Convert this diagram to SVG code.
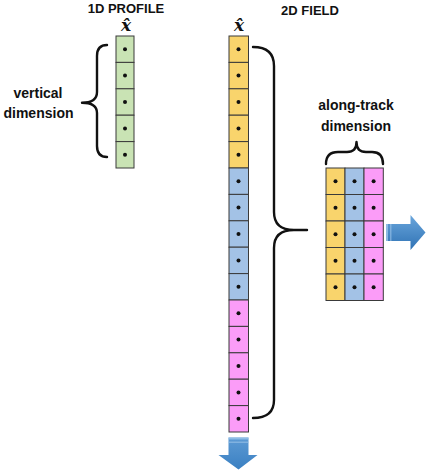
<svg xmlns="http://www.w3.org/2000/svg" width="427" height="472" viewBox="0 0 427 472">
<defs>
<style>
.t{font-family:"Liberation Sans",Arial,sans-serif;font-weight:bold;fill:#111;text-anchor:middle}
.title{font-size:13px}
.lbl{font-size:14px}
.xh{font-family:"DejaVu Serif","Liberation Serif",serif;font-style:italic;font-weight:bold;font-size:17px;fill:#111;text-anchor:middle}
.c{stroke:#3a3a3a;stroke-width:1}
.g{fill:#c9e3b4}
.y{fill:#f9d46c}
.b{fill:#a3c2e6}
.p{fill:#fb9cf8}
.d{fill:#111}
.br{fill:none;stroke:#111;stroke-width:2.4;stroke-linecap:round;stroke-linejoin:round}
</style>
<linearGradient id="gR" x1="0" y1="0" x2="0" y2="1">
<stop offset="0" stop-color="#6aa6dc"/>
<stop offset="1" stop-color="#2f72b4"/>
</linearGradient>
<linearGradient id="gDv" x1="0" y1="0" x2="0" y2="1">
<stop offset="0" stop-color="#5d9ad4"/>
<stop offset="1" stop-color="#3a80c2"/>
</linearGradient>
</defs>

<g id="titles">
<text class="t title" x="126" y="13">1D PROFILE</text>
<text class="t title" x="310" y="15">2D FIELD</text>
<text class="xh" x="126" y="31">x&#770;</text>
<text class="xh" x="239" y="31">x&#770;</text>
</g>

<g id="profile1d">
<rect class="c g" x="116" y="36" width="18" height="26.4"/>
<rect class="c g" x="116" y="62.4" width="18" height="26.4"/>
<rect class="c g" x="116" y="88.8" width="18" height="26.4"/>
<rect class="c g" x="116" y="115.2" width="18" height="26.4"/>
<rect class="c g" x="116" y="141.6" width="18" height="26.4"/>
<circle class="d" cx="125" cy="49.2" r="2"/>
<circle class="d" cx="125" cy="75.6" r="2"/>
<circle class="d" cx="125" cy="102" r="2"/>
<circle class="d" cx="125" cy="128.4" r="2"/>
<circle class="d" cx="125" cy="154.8" r="2"/>
</g>

<g id="vertical-label">
<text class="t lbl" x="38" y="97.5">vertical</text>
<text class="t lbl" x="38.5" y="117.5">dimension</text>
</g>

<g id="field2d">
<rect class="c y" x="229" y="36" width="19.5" height="26.4"/>
<rect class="c y" x="229" y="62.4" width="19.5" height="26.4"/>
<rect class="c y" x="229" y="88.8" width="19.5" height="26.4"/>
<rect class="c y" x="229" y="115.2" width="19.5" height="26.4"/>
<rect class="c y" x="229" y="141.6" width="19.5" height="26.4"/>
<rect class="c b" x="229" y="168" width="19.5" height="26.4"/>
<rect class="c b" x="229" y="194.4" width="19.5" height="26.4"/>
<rect class="c b" x="229" y="220.8" width="19.5" height="26.4"/>
<rect class="c b" x="229" y="247.2" width="19.5" height="26.4"/>
<rect class="c b" x="229" y="273.6" width="19.5" height="26.4"/>
<rect class="c p" x="229" y="300" width="19.5" height="26.4"/>
<rect class="c p" x="229" y="326.4" width="19.5" height="26.4"/>
<rect class="c p" x="229" y="352.8" width="19.5" height="26.4"/>
<rect class="c p" x="229" y="379.2" width="19.5" height="26.4"/>
<rect class="c p" x="229" y="405.6" width="19.5" height="26.4"/>
<circle class="d" cx="238.5" cy="49.2" r="2"/>
<circle class="d" cx="238.5" cy="75.6" r="2"/>
<circle class="d" cx="238.5" cy="102" r="2"/>
<circle class="d" cx="238.5" cy="128.4" r="2"/>
<circle class="d" cx="238.5" cy="154.8" r="2"/>
<circle class="d" cx="238.5" cy="181.2" r="2"/>
<circle class="d" cx="238.5" cy="207.6" r="2"/>
<circle class="d" cx="238.5" cy="234" r="2"/>
<circle class="d" cx="238.5" cy="260.4" r="2"/>
<circle class="d" cx="238.5" cy="286.8" r="2"/>
<circle class="d" cx="238.5" cy="313.2" r="2"/>
<circle class="d" cx="238.5" cy="339.6" r="2"/>
<circle class="d" cx="238.5" cy="366" r="2"/>
<circle class="d" cx="238.5" cy="392.4" r="2"/>
<circle class="d" cx="238.5" cy="418.8" r="2"/>
</g>

<g id="along-track-label">
<text class="t lbl" x="356" y="110">along-track</text>
<text class="t lbl" x="356" y="130.5">dimension</text>
</g>

<g id="grid">
<rect class="c y" x="326" y="168" width="19" height="26.5"/>
<rect class="c y" x="326" y="194.5" width="19" height="26.5"/>
<rect class="c y" x="326" y="221" width="19" height="26.5"/>
<rect class="c y" x="326" y="247.5" width="19" height="26.5"/>
<rect class="c y" x="326" y="274" width="19" height="26.5"/>
<rect class="c b" x="345" y="168" width="19" height="26.5"/>
<rect class="c b" x="345" y="194.5" width="19" height="26.5"/>
<rect class="c b" x="345" y="221" width="19" height="26.5"/>
<rect class="c b" x="345" y="247.5" width="19" height="26.5"/>
<rect class="c b" x="345" y="274" width="19" height="26.5"/>
<rect class="c p" x="364" y="168" width="19.3" height="26.5"/>
<rect class="c p" x="364" y="194.5" width="19.3" height="26.5"/>
<rect class="c p" x="364" y="221" width="19.3" height="26.5"/>
<rect class="c p" x="364" y="247.5" width="19.3" height="26.5"/>
<rect class="c p" x="364" y="274" width="19.3" height="26.5"/>
<g class="d">
<circle cx="335.5" cy="181.2" r="2"/><circle cx="354.5" cy="181.2" r="2"/><circle cx="373.6" cy="181.2" r="2"/>
<circle cx="335.5" cy="207.7" r="2"/><circle cx="354.5" cy="207.7" r="2"/><circle cx="373.6" cy="207.7" r="2"/>
<circle cx="335.5" cy="234.2" r="2"/><circle cx="354.5" cy="234.2" r="2"/><circle cx="373.6" cy="234.2" r="2"/>
<circle cx="335.5" cy="260.7" r="2"/><circle cx="354.5" cy="260.7" r="2"/><circle cx="373.6" cy="260.7" r="2"/>
<circle cx="335.5" cy="287.2" r="2"/><circle cx="354.5" cy="287.2" r="2"/><circle cx="373.6" cy="287.2" r="2"/>
</g>
</g>

<g id="connectors">
<path class="br" d="M107,45 Q97,45 97,56 L97,92 Q97,102.7 82,102.7 Q97,102.7 97,113 L97,146 Q97,157 107,157"/>
<path class="br" d="M253,47 Q274,47 274,66 L274,212 Q274,230 294,230 L307,230 M294,230 Q274,230 274,248 L274,400 Q274,418 253,418"/>
<path class="br" stroke-width="1.6" d="M326,164 Q326,152 338,152 L347,152 Q356.5,152 356.5,142 Q356.5,152 366,152 L372,152 Q383,152 383,164"/>
<g id="arrow-right">
<path d="M386,224 L410.5,224 L410.5,215 L425.5,232.5 L410.5,250 L410.5,241 L386,241 Z" fill="url(#gR)"/>
<rect x="386" y="224" width="2" height="17" fill="#9cc4ea" opacity="0.8"/>
<rect x="390" y="224" width="1.5" height="17" fill="#9cc4ea" opacity="0.6"/>
</g>
<g id="arrow-down">
<path d="M228.5,437.5 L248.5,437.5 L248.5,455 L257.5,455 L238.5,469.5 L218.5,455 L228.5,455 Z" fill="url(#gDv)"/>
<rect x="228.5" y="437.5" width="20" height="2" fill="#9cc4ea" opacity="0.8"/>
<rect x="228.5" y="441.5" width="20" height="1.5" fill="#9cc4ea" opacity="0.6"/>
</g>
</g>
</svg>
